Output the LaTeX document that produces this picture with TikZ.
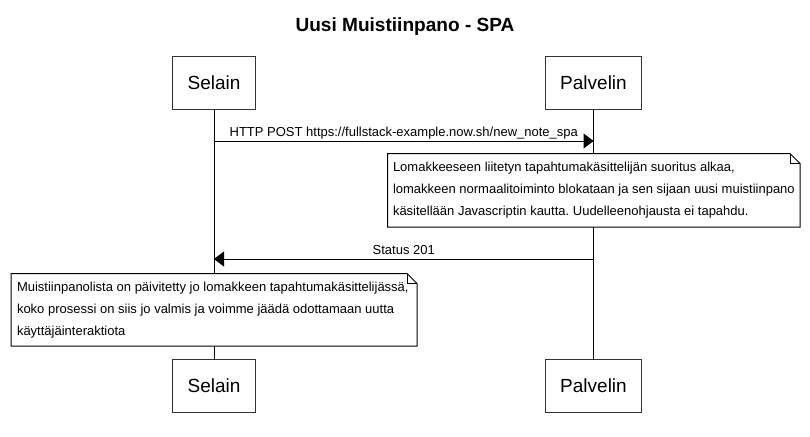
\documentclass[tikz,border=0pt]{standalone}
\usepackage{fontspec}
\setmainfont{Liberation Sans}
\usetikzlibrary{arrows.meta}
\frenchspacing
\begin{document}
\frenchspacing
\begin{tikzpicture}[x=0.75pt,y=-0.75pt,line width=0.75pt,
  actor/.style={draw=black!80,fill=white,minimum height=39.75pt,inner xsep=11pt,font=\fontsize{14.25}{17}\selectfont},
  msg/.style={-{Triangle[length=7.5pt,width=11.25pt]}},
  lbl/.style={font=\fontsize{9.75}{12}\selectfont,anchor=base,inner sep=0pt,yshift=3.75pt},
  note/.style={draw,fill=white},
  notetext/.style={font=\fontsize{9.75}{16.5}\selectfont,align=left,anchor=west,inner sep=0pt}]
\useasboundingbox (0,0) rectangle (810,436);
\fill[white] (0,0) rectangle (810,436);
\node[font=\bfseries\fontsize{14.3}{17}\selectfont,anchor=base] (title) at (405,31) {Uusi Muistiinpano - SPA};
\node[actor] (selT) at (214,82.5) {Selain};
\node[actor] (palT) at (593.5,82.5) {Palvelin};
\node[actor] (selB) at (214,385.5) {Selain};
\node[actor] (palB) at (593.5,385.5) {Palvelin};
\draw (selT) -- (selB);
\draw (palT) -- (palB);
\coordinate (m1a) at (selT |- 0,141);
\coordinate (m1b) at (palT |- 0,141);
\draw[msg] (m1a) -- node[lbl] (l1) {HTTP POST https://fullstack-example.now.sh/new\_note\_spa} (m1b);
\coordinate (m2a) at (palT |- 0,259);
\coordinate (m2b) at (selT |- 0,259);
\draw[msg] (m2a) -- node[lbl] (l2) {Status 201} (m2b);
% note 1
\draw[note] (387.5,153.5) -- (790,153.5) -- (800,163.5) -- (800,227) -- (387.5,227) -- cycle;
\draw (790,153.5) -- (790,163.5) -- (800,163.5);
\node[notetext] (n1) at (392.5,190) {Lomakkeeseen liitetyn tapahtumakäsittelijän suoritus alkaa,\\lomakkeen normaalitoiminto blokataan ja sen sijaan uusi muistiinpano\\käsitellään Javascriptin kautta. Uudelleenohjausta ei tapahdu.};
% note 2
\draw[note] (11,273.5) -- (407,273.5) -- (417,283.5) -- (417,346) -- (11,346) -- cycle;
\draw (407,273.5) -- (407,283.5) -- (417,283.5);
\node[notetext] (n2) at (16.5,310.5) {Muistiinpanolista on päivitetty jo lomakkeen tapahtumakäsittelijässä,\\koko prosessi on siis jo valmis ja voimme jäädä odottamaan uutta\\käyttäjäinteraktiota};
\end{tikzpicture}
\end{document}
